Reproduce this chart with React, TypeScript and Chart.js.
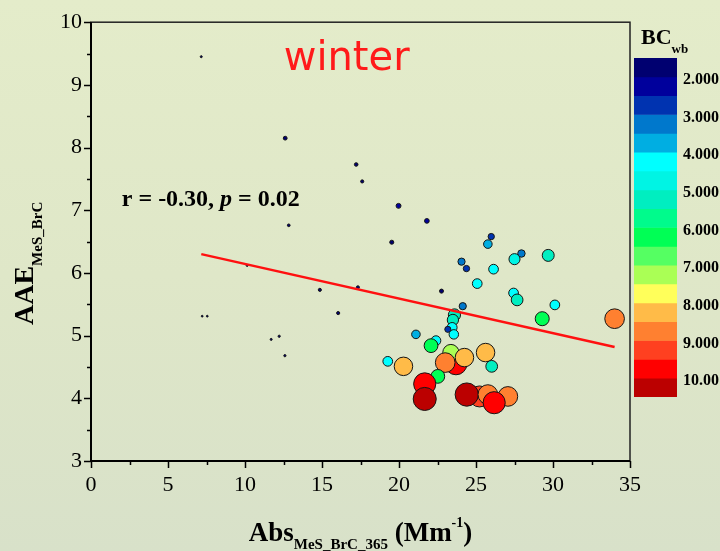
import React, { useEffect, useRef } from "react";
import { Chart, registerables } from "chart.js";

Chart.register(...registerables);

// ---------- data ----------
const absValues = [
  7.16, 12.61, 17.22, 17.61, 12.84, 10.14, 14.86, 17.33, 16.05, 7.22, 7.55, 11.7, 12.22, 12.59,
  19.97, 21.81, 19.53, 22.76,
  25.99, 25.77, 27.95, 27.5, 24.06, 24.38, 26.14, 25.08, 27.44, 27.67, 24.14, 29.69, 30.12, 29.3, 34.0,
  23.6, 23.5, 23.45, 23.17, 23.56, 21.1, 22.4, 22.08, 19.27, 20.29,
  23.7, 23.37, 23.0, 24.25, 25.62, 26.02, 22.52, 21.67, 21.67,
  25.23, 24.4, 25.77, 27.07, 26.18,
];
const aaeValues = [
  9.45, 8.15, 7.73, 7.46, 6.76, 6.12, 5.73, 5.77, 5.36, 5.31, 5.31, 4.94, 4.99, 4.68,
  7.07, 6.83, 6.49, 5.71,
  6.58, 6.46, 6.31, 6.22, 6.18, 6.07, 6.06, 5.83, 5.68, 5.57, 5.47, 6.28, 5.49, 5.27, 5.27,
  5.33, 5.25, 5.13, 5.1, 5.02, 5.02, 4.92, 4.84, 4.59, 4.51,
  4.55, 4.73, 4.57, 4.65, 4.73, 4.51, 4.35, 4.23, 3.99,
  4.03, 4.06, 4.06, 4.03, 3.93,
];
const bcValues = [
  0.9, 1.7, 1.6, 1.4, 1.2, 0.9, 1.4, 1.4, 1.4, 0.8, 0.8, 0.9, 1.0, 1.0,
  2.2, 2.1, 1.8, 1.8,
  2.8, 3.8, 3.3, 4.9, 3.2, 2.8, 4.3, 4.3, 4.3, 5.2, 3.2, 5.3, 4.3, 6.2, 8.7,
  5.4, 5.0, 4.4, 2.7, 4.2, 3.8, 4.3, 6.1, 4.3, 8.2,
  9.7, 7.2, 8.7, 8.2, 8.2, 5.2, 6.1, 9.8, 10.2,
  9.3, 10.3, 8.7, 8.7, 9.8,
];

// regression line end points
const fitX = [7.16, 34.0];
const fitY = [6.3, 4.82];

const xTicks = [0, 5, 10, 15, 20, 25, 30, 35];
const yTicks = [3, 4, 5, 6, 7, 8, 9, 10];

const bcBandEdges = [1.5, 2, 2.5, 3, 3.5, 4, 4.5, 5, 5.5, 6, 6.5, 7, 7.5, 8, 8.5, 9, 9.5, 10, 10.5];
const bcBandColors = [
  "#000070", "#00009c", "#0033b0", "#0078cc", "#00aee2", "#00ffff", "#00f4e4", "#00eec0", "#00fb8c",
  "#00ff55", "#55ff62", "#aaff55", "#ffff5a", "#ffbb48", "#ff8030", "#ff4020", "#ff0000", "#bb0000",
];
const bcTickValues = [2, 3, 4, 5, 6, 7, 8, 9, 10];
const bcTickLabels = ["2.000", "3.000", "4.000", "5.000", "6.000", "7.000", "8.000", "9.000", "10.00"];

const titleText = "winter";
const statText = ["r = -0.30, ", "p", " = 0.02"];

// ---------- helpers ----------
function bandColor(bc: number): string {
  let i = Math.floor((bc - bcBandEdges[0]) / 0.5);
  if (i < 0) i = 0;
  if (i > bcBandColors.length - 1) i = bcBandColors.length - 1;
  return bcBandColors[i];
}

const SERIF = "'Liberation Serif', 'Times New Roman', serif";

const mainPlugin = {
  id: "mainDecor",
  afterDraw(chart: any) {
    const { ctx, chartArea } = chart;
    const xs = chart.scales.x;
    const ys = chart.scales.y;
    const { left, right, top, bottom } = chartArea;
    ctx.save();
    // frame
    ctx.strokeStyle = "#222";
    ctx.lineWidth = 1.5;
    ctx.strokeRect(left, top, right - left, bottom - top);
    ctx.strokeStyle = "#000";
    ctx.lineWidth = 2;
    ctx.beginPath();
    ctx.moveTo(left, top);
    ctx.lineTo(left, bottom);
    ctx.lineTo(right, bottom);
    ctx.stroke();
    // ticks
    ctx.lineWidth = 1.5;
    ctx.beginPath();
    for (let v = ys.min; v <= ys.max + 1e-9; v += 0.5) {
      const p = Math.round(ys.getPixelForValue(v)) + 0.5;
      const len = Math.abs(v - Math.round(v)) < 1e-6 ? 7 : 4;
      ctx.moveTo(left - len, p);
      ctx.lineTo(left, p);
    }
    for (let v = xs.min; v <= xs.max + 1e-9; v += 2.5) {
      const p = Math.round(xs.getPixelForValue(v)) + 0.5;
      const len = Math.abs(v / 5 - Math.round(v / 5)) < 1e-6 ? 7 : 4;
      ctx.moveTo(p, bottom);
      ctx.lineTo(p, bottom + len);
    }
    ctx.stroke();

    // "winter"
    ctx.fillStyle = "#ff1a1a";
    ctx.font = "40px 'DejaVu Sans', sans-serif";
    ctx.textAlign = "center";
    ctx.textBaseline = "alphabetic";
    ctx.fillText(titleText, xs.getPixelForValue(16.6), ys.getPixelForValue(9.23));

    // r / p annotation
    ctx.fillStyle = "#000";
    ctx.textAlign = "left";
    let sx = xs.getPixelForValue(2.0);
    const sy = ys.getPixelForValue(7.07);
    const fonts = [`bold 24px ${SERIF}`, `italic bold 24px ${SERIF}`, `bold 24px ${SERIF}`];
    statText.forEach((t, i) => {
      ctx.font = fonts[i];
      ctx.fillText(t, sx, sy);
      sx += ctx.measureText(t).width;
    });

    // x axis title: Abs_{MeS_BrC_365} (Mm^{-1})
    const parts = [
      { t: "Abs", f: `bold 27px ${SERIF}`, dy: 0 },
      { t: "MeS_BrC_365", f: `bold 15px ${SERIF}`, dy: 8 },
      { t: " (Mm", f: `bold 27px ${SERIF}`, dy: 0 },
      { t: "-1", f: `bold 14px ${SERIF}`, dy: -14 },
      { t: ")", f: `bold 27px ${SERIF}`, dy: 0 },
    ];
    let total = 0;
    parts.forEach((p) => {
      ctx.font = p.f;
      total += ctx.measureText(p.t).width;
    });
    let px = (left + right) / 2 - total / 2;
    const base = bottom + 80;
    parts.forEach((p) => {
      ctx.font = p.f;
      ctx.fillText(p.t, px, base + p.dy);
      px += ctx.measureText(p.t).width;
    });

    // y axis title: AAE_{MeS_BrC}
    ctx.save();
    ctx.translate(left - 58, bottom - 136);
    ctx.rotate(-Math.PI / 2);
    ctx.font = `bold 28px ${SERIF}`;
    ctx.fillText("AAE", 0, 0);
    const w = ctx.measureText("AAE").width;
    ctx.font = `bold 15px ${SERIF}`;
    ctx.fillText("MeS_BrC", w, 9);
    ctx.restore();

    ctx.restore();
  },
};

const cbPlugin = {
  id: "cbDecor",
  afterDraw(chart: any) {
    const { ctx, chartArea } = chart;
    ctx.save();
    ctx.fillStyle = "#000";
    ctx.textAlign = "left";
    ctx.textBaseline = "alphabetic";
    ctx.font = `bold 22px ${SERIF}`;
    const x0 = chartArea.left + 7;
    ctx.fillText("BC", x0, chartArea.top - 14);
    const w = ctx.measureText("BC").width;
    ctx.font = `bold 13px ${SERIF}`;
    ctx.fillText("wb", x0 + w, chartArea.top - 5);
    ctx.restore();
  },
};

export default function App() {
  const mainRef = useRef<HTMLCanvasElement>(null);
  const cbRef = useRef<HTMLCanvasElement>(null);

  useEffect(() => {
    document.body.style.margin = "0";
    document.body.style.overflow = "hidden";
    const tickFont = { family: SERIF, size: 22 };

    const main = new Chart(mainRef.current as HTMLCanvasElement, {
      type: "scatter",
      data: {
        datasets: [
          {
            data: fitX.map((x, i) => ({ x, y: fitY[i] })),
            showLine: true,
            borderColor: "#ff1010",
            borderWidth: 2.5,
            pointRadius: 0,
            order: 0,
          } as any,
          {
            data: absValues.map((x, i) => ({ x, y: aaeValues[i] })),
            pointRadius: (c: any) => 1.13 * bcValues[c.dataIndex],
            pointBackgroundColor: (c: any) => bandColor(bcValues[c.dataIndex]),
            pointBorderColor: "#151515",
            pointBorderWidth: 1,
            order: 1,
          } as any,
        ],
      },
      options: {
        animation: false,
        responsive: false,
        events: [],
        layout: { padding: { top: 20, right: 90, left: 0, bottom: 0 } },
        plugins: { legend: { display: false }, tooltip: { enabled: false } },
        scales: {
          x: {
            type: "linear",
            min: 0,
            max: 35,
            afterBuildTicks: (ax: any) => {
              ax.ticks = xTicks.map((v) => ({ value: v }));
            },
            afterFit: (ax: any) => {
              ax.height = 90;
            },
            grid: { display: false, drawTicks: false },
            border: { display: false },
            ticks: { font: tickFont, color: "#000", padding: 11, maxRotation: 0, autoSkip: false },
          },
          y: {
            type: "linear",
            min: 3,
            max: 10,
            afterBuildTicks: (ax: any) => {
              ax.ticks = yTicks.map((v) => ({ value: v }));
            },
            afterFit: (ax: any) => {
              ax.width = 91;
            },
            grid: { display: false, drawTicks: false },
            border: { display: false },
            ticks: { font: tickFont, color: "#000", padding: 9, autoSkip: false },
          },
        },
      } as any,
      plugins: [mainPlugin],
    });

    const cb = new Chart(cbRef.current as HTMLCanvasElement, {
      type: "bar",
      data: {
        labels: ["bc"],
        datasets: bcBandColors.map((c, i) => ({
          data: [[bcBandEdges[i], bcBandEdges[i + 1]]],
          backgroundColor: c,
          borderWidth: 0,
          grouped: false,
          barPercentage: 1,
          categoryPercentage: 1,
        })) as any,
      },
      options: {
        animation: false,
        responsive: false,
        events: [],
        layout: { padding: { top: 58, bottom: 23, left: 0, right: 0 } },
        plugins: { legend: { display: false }, tooltip: { enabled: false } },
        scales: {
          x: { display: false },
          y: {
            type: "linear",
            position: "right",
            min: bcBandEdges[0],
            max: bcBandEdges[bcBandEdges.length - 1],
            reverse: true,
            afterBuildTicks: (ax: any) => {
              ax.ticks = bcTickValues.map((v) => ({ value: v }));
            },
            afterFit: (ax: any) => {
              ax.width = 47;
            },
            grid: { display: false, drawTicks: false },
            border: { display: false },
            ticks: {
              font: { family: SERIF, size: 16, weight: "bold" },
              color: "#000",
              padding: 6,
              labelOffset: 3,
              callback: (v: any) => {
                const i = bcTickValues.indexOf(Number(v));
                return i >= 0 ? bcTickLabels[i] : "";
              },
            },
          },
        },
      } as any,
      plugins: [cbPlugin],
    });

    return () => {
      main.destroy();
      cb.destroy();
    };
  }, []);

  return (
    <div
      style={{
        position: "relative",
        width: 720,
        height: 551,
        overflow: "hidden",
        background: "linear-gradient(180deg, #e4ecca 0%, #dfe7c8 50%, #d8e1c9 100%)",
      }}
    >
      <canvas ref={mainRef} width={720} height={551} style={{ position: "absolute", left: 0, top: 0 }} />
      <canvas ref={cbRef} width={90} height={420} style={{ position: "absolute", left: 634, top: 0 }} />
    </div>
  );
}
